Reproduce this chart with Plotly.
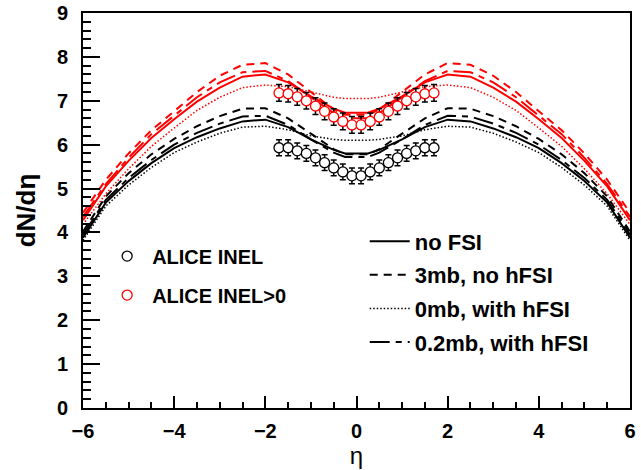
import plotly.graph_objects as go

# ---------------- data ----------------
ETA_MODEL = [-6.0, -5.5, -5.0, -4.5, -4.0, -3.5, -3.0, -2.5, -2.0, -1.5, -1.0, -0.5, -0.25,
             0.25, 0.5, 1.0, 1.5, 2.0, 2.5, 3.0, 3.5, 4.0, 4.5, 5.0, 5.5, 6.0]

# INEL (black) model curves
INEL_NOFSI = [3.88, 4.68, 5.17, 5.58, 5.92, 6.17, 6.37, 6.53, 6.57, 6.40, 6.12, 5.88, 5.80,
              5.80, 5.88, 6.12, 6.40, 6.57, 6.53, 6.37, 6.17, 5.92, 5.58, 5.17, 4.68, 3.88]
INEL_3MB = [4.02, 4.82, 5.35, 5.78, 6.13, 6.42, 6.65, 6.82, 6.83, 6.60, 6.25, 5.90, 5.78,
            5.78, 5.90, 6.25, 6.60, 6.83, 6.82, 6.65, 6.42, 6.13, 5.78, 5.35, 4.82, 4.02]
INEL_0MB = [3.82, 4.60, 5.08, 5.48, 5.82, 6.06, 6.26, 6.40, 6.42, 6.34, 6.20, 6.12, 6.10,
            6.10, 6.12, 6.20, 6.34, 6.42, 6.40, 6.26, 6.06, 5.82, 5.48, 5.08, 4.60, 3.82]
INEL_02MB = [3.95, 4.74, 5.24, 5.65, 6.00, 6.27, 6.48, 6.64, 6.66, 6.45, 6.12, 5.82, 5.72,
             5.72, 5.82, 6.12, 6.45, 6.66, 6.64, 6.48, 6.27, 6.00, 5.65, 5.24, 4.74, 3.95]

# INEL>0 (red) model curves
INELGT0_NOFSI = [4.28, 5.05, 5.63, 6.15, 6.58, 6.98, 7.30, 7.55, 7.60, 7.42, 7.10, 6.82, 6.73,
                 6.73, 6.82, 7.10, 7.42, 7.60, 7.55, 7.30, 6.98, 6.58, 6.15, 5.63, 5.05, 4.28]
INELGT0_3MB = [4.45, 5.20, 5.80, 6.33, 6.76, 7.20, 7.57, 7.82, 7.86, 7.60, 7.20, 6.80, 6.68,
               6.68, 6.80, 7.20, 7.60, 7.86, 7.82, 7.57, 7.20, 6.76, 6.33, 5.80, 5.20, 4.45]
INELGT0_0MB = [4.18, 4.88, 5.45, 5.96, 6.38, 6.78, 7.08, 7.30, 7.36, 7.32, 7.20, 7.08, 7.05,
               7.05, 7.08, 7.20, 7.32, 7.36, 7.30, 7.08, 6.78, 6.38, 5.96, 5.45, 4.88, 4.18]
INELGT0_02MB = [4.36, 5.10, 5.70, 6.24, 6.66, 7.08, 7.42, 7.65, 7.68, 7.45, 7.08, 6.72, 6.60,
                6.60, 6.72, 7.08, 7.45, 7.68, 7.65, 7.42, 7.08, 6.66, 6.24, 5.70, 5.10, 4.36]

# ALICE data
ETA_DATA = [-1.7, -1.5, -1.3, -1.1, -0.9, -0.7, -0.5, -0.3, -0.1,
            0.1, 0.3, 0.5, 0.7, 0.9, 1.1, 1.3, 1.5, 1.7]
ALICE_INEL = [5.93, 5.93, 5.86, 5.80, 5.70, 5.59, 5.47, 5.38, 5.29,
              5.29, 5.38, 5.47, 5.59, 5.70, 5.80, 5.86, 5.93, 5.93]
ALICE_INEL_ERR = [0.18] * 18
ALICE_INELGT0 = [7.18, 7.16, 7.09, 7.00, 6.88, 6.76, 6.63, 6.53, 6.45,
                 6.45, 6.53, 6.63, 6.76, 6.88, 7.00, 7.09, 7.16, 7.18]
ALICE_INELGT0_ERR = [0.19] * 18

X_TICKS = [-6, -4, -2, 0, 2, 4, 6]
X_TICK_LABELS = ["\u22126", "\u22124", "\u22122", "0", "2", "4", "6"]
Y_TICKS = [0, 1, 2, 3, 4, 5, 6, 7, 8, 9]

MODEL_LABELS = ["no FSI", "3mb, no hFSI", "0mb, with hFSI", "0.2mb, with hFSI"]

# ---------------- styles ----------------
FONT = "Liberation Sans, Arial, sans-serif"
STYLES = [
    dict(dash="solid", width=2),
    dict(dash="8px,6px", width=2),
    dict(dash="1.5px,2px", width=1.5),
    dict(dash="20px,6px,6px,6px", width=2),
]

fig = go.Figure()

black_curves = [INEL_NOFSI, INEL_3MB, INEL_0MB, INEL_02MB]
red_curves = [INELGT0_NOFSI, INELGT0_3MB, INELGT0_0MB, INELGT0_02MB]

for curves, color in ((red_curves, "#ff0000"), (black_curves, "#000000")):
    for ys, st in zip(curves, STYLES):
        fig.add_trace(go.Scatter(x=ETA_MODEL, y=ys, mode="lines",
                                 line=dict(color=color, dash=st["dash"], width=st["width"]),
                                 showlegend=False, hoverinfo="skip"))

# data points
fig.add_trace(go.Scatter(
    x=ETA_DATA, y=ALICE_INEL, mode="markers", name="ALICE INEL",
    marker=dict(symbol="circle", size=10, color="white", line=dict(color="black", width=1.3)),
    error_y=dict(type="data", array=ALICE_INEL_ERR, color="black", thickness=1.5, width=3),
    legend="legend", legendgroup="a"))
fig.add_trace(go.Scatter(
    x=ETA_DATA, y=ALICE_INELGT0, mode="markers", name="ALICE INEL>0",
    marker=dict(symbol="circle", size=10, color="white", line=dict(color="red", width=1.3)),
    error_y=dict(type="data", array=ALICE_INELGT0_ERR, color="black", thickness=1.5, width=3),
    legend="legend", legendgroup="b"))

# legend entries for model styles
for i, (lab, st) in enumerate(zip(MODEL_LABELS, STYLES)):
    fig.add_trace(go.Scatter(x=[None], y=[None], mode="lines", name=lab,
                             line=dict(color="black", dash=st["dash"], width=st["width"]),
                             legend="legend2", legendgroup="m%d" % i))

axis_common = dict(showline=True, linecolor="black", linewidth=2, mirror=True,
                   ticks="inside", tickcolor="black", tickwidth=1.5,
                   showgrid=False, zeroline=False, automargin=False,
                   tickfont=dict(family=FONT, size=20, color="black", weight="bold"))

fig.update_xaxes(range=[-6, 6], tickvals=X_TICKS, ticktext=X_TICK_LABELS, ticklen=12,
                 ticklabelstandoff=4,
                 minor=dict(ticks="inside", dtick=0.5, ticklen=6, tickcolor="black", tickwidth=1.5),
                 title=dict(text="\u03b7", font=dict(family=FONT, size=24, color="black"), standoff=0),
                 **axis_common)
fig.update_yaxes(range=[0, 9], tickvals=Y_TICKS, ticklen=17,
                 ticklabelstandoff=9,
                 minor=dict(ticks="inside", dtick=0.2, ticklen=8, tickcolor="black", tickwidth=1.5),
                 title=dict(text="dN/d\u03b7", font=dict(family=FONT, size=26, color="black", weight="bold"), standoff=14),
                 **axis_common)

fig.update_layout(
    width=641, height=470,
    margin=dict(l=83, r=11, t=13, b=62),
    paper_bgcolor="white", plot_bgcolor="white",
    legend=dict(x=0.035, y=0.434, xanchor="left", yanchor="top", bgcolor="rgba(0,0,0,0)",
                font=dict(family=FONT, size=20, color="black", weight="bold"),
                itemwidth=40, traceorder="grouped", tracegroupgap=10),
    legend2=dict(x=0.515, y=0.475, xanchor="left", yanchor="top", bgcolor="rgba(0,0,0,0)",
                 font=dict(family=FONT, size=22, color="black", weight="bold"),
                 itemwidth=40, traceorder="grouped", tracegroupgap=2),
)

fig.write_html("out.html")
